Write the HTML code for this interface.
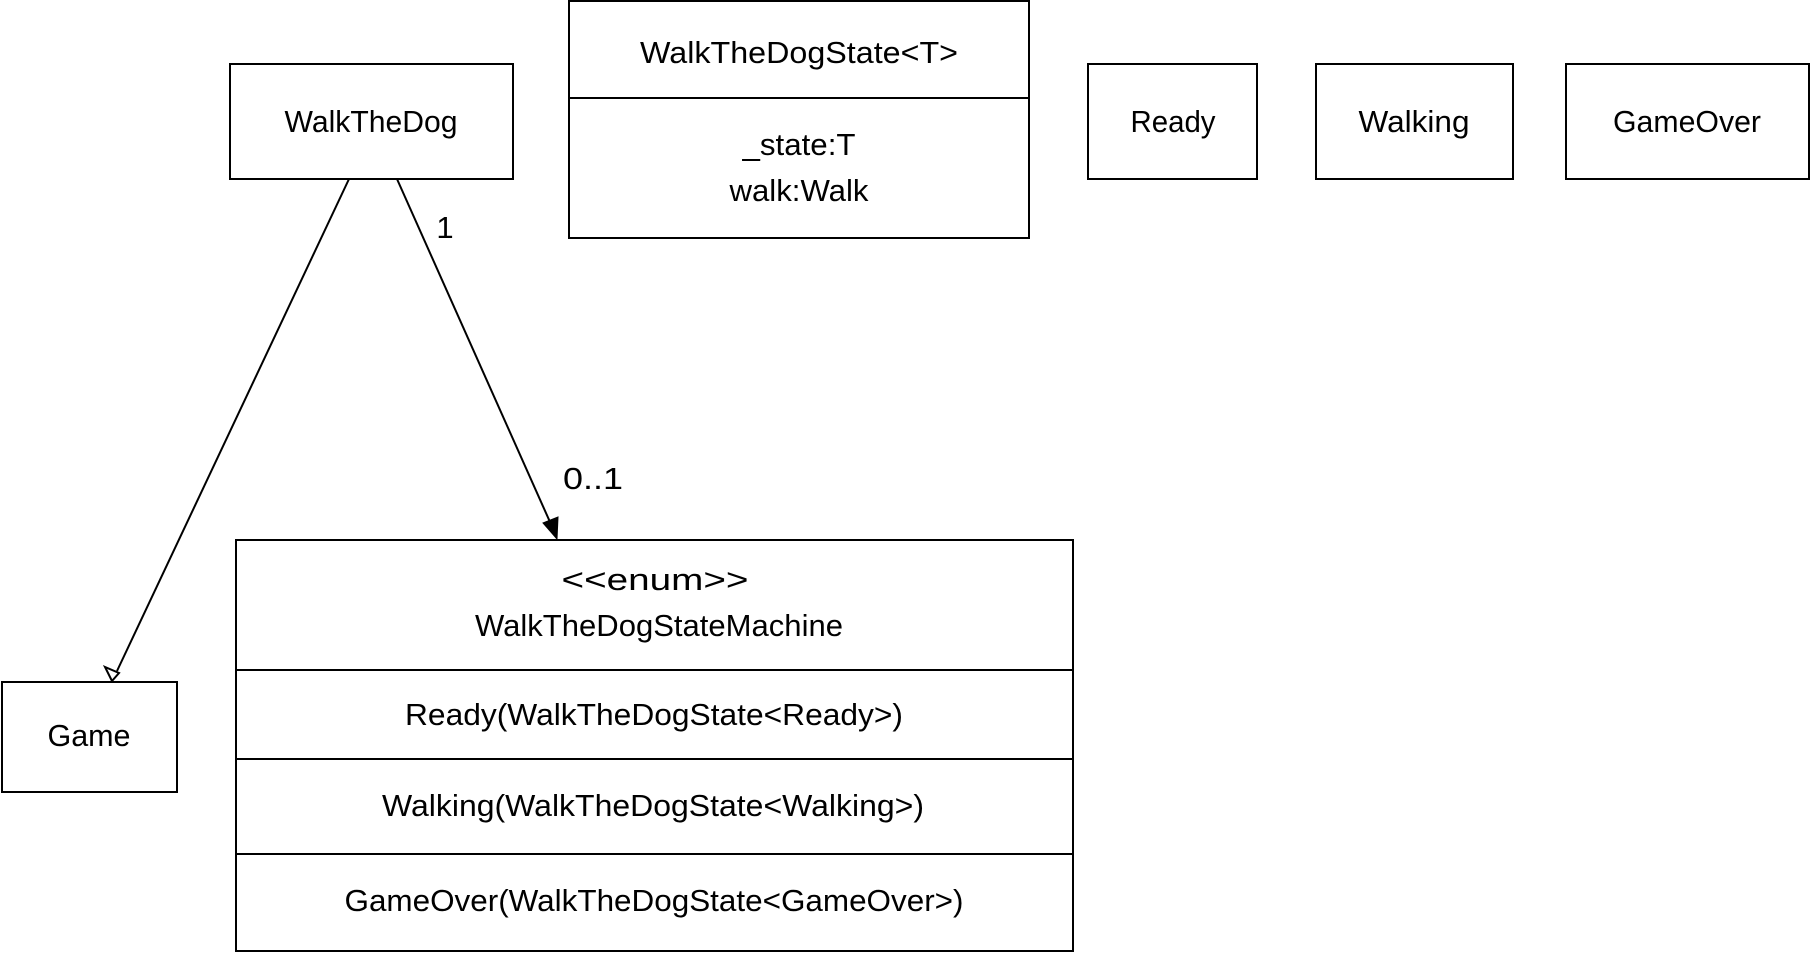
<!DOCTYPE html>
<html><head><meta charset="utf-8"><style>html,body{margin:0;padding:0;background:#fff}svg{display:block}</style></head>
<body>
<svg width="1811" height="953" viewBox="0 0 1811 953" xmlns="http://www.w3.org/2000/svg" font-family="Liberation Sans, sans-serif" font-size="31" fill="#000">
<g fill="none" stroke="#000" stroke-width="2">
<rect x="230" y="64" width="283" height="115"/>
<rect x="569" y="1" width="460" height="237"/>
<line x1="569" y1="98" x2="1029" y2="98"/>
<rect x="1088" y="64" width="169" height="115"/>
<rect x="1316" y="64" width="197" height="115"/>
<rect x="1566" y="64" width="243" height="115"/>
<rect x="2" y="682" width="175" height="110"/>
<rect x="236" y="540" width="837" height="411"/>
<line x1="236" y1="670" x2="1073" y2="670"/>
<line x1="236" y1="759" x2="1073" y2="759"/>
<line x1="236" y1="854" x2="1073" y2="854"/>
<line x1="349" y1="179" x2="117" y2="671"/>
<line x1="397" y1="179" x2="550" y2="522"/>
</g>
<polygon points="112,681 105,667 119,673" fill="#fff" stroke="#000" stroke-width="2"/>
<polygon points="557,539 543,523 558,517" fill="#000" stroke="#000" stroke-width="1"/>
<g text-anchor="middle">
<text x="371" y="132" textLength="173" lengthAdjust="spacingAndGlyphs">WalkTheDog</text>
<text x="799" y="63" textLength="318" lengthAdjust="spacingAndGlyphs">WalkTheDogState&lt;T&gt;</text>
<text x="799" y="155" textLength="113" lengthAdjust="spacingAndGlyphs">_state:T</text>
<text x="799" y="201" textLength="139" lengthAdjust="spacingAndGlyphs">walk:Walk</text>
<text x="1173" y="132" textLength="85" lengthAdjust="spacingAndGlyphs">Ready</text>
<text x="1414" y="132" textLength="111" lengthAdjust="spacingAndGlyphs">Walking</text>
<text x="1687" y="132" textLength="148" lengthAdjust="spacingAndGlyphs">GameOver</text>
<text x="89" y="746" textLength="83" lengthAdjust="spacingAndGlyphs">Game</text>
<text x="655" y="590" textLength="187" lengthAdjust="spacingAndGlyphs">&lt;&lt;enum&gt;&gt;</text>
<text x="659" y="636" textLength="368" lengthAdjust="spacingAndGlyphs">WalkTheDogStateMachine</text>
<text x="654" y="725" textLength="498" lengthAdjust="spacingAndGlyphs">Ready(WalkTheDogState&lt;Ready&gt;)</text>
<text x="653" y="816" textLength="542" lengthAdjust="spacingAndGlyphs">Walking(WalkTheDogState&lt;Walking&gt;)</text>
<text x="654" y="911" textLength="619" lengthAdjust="spacingAndGlyphs">GameOver(WalkTheDogState&lt;GameOver&gt;)</text>
<text x="445" y="238">1</text>
<text x="593" y="489" textLength="60" lengthAdjust="spacingAndGlyphs">0..1</text>
</g>
</svg>
</body></html>
